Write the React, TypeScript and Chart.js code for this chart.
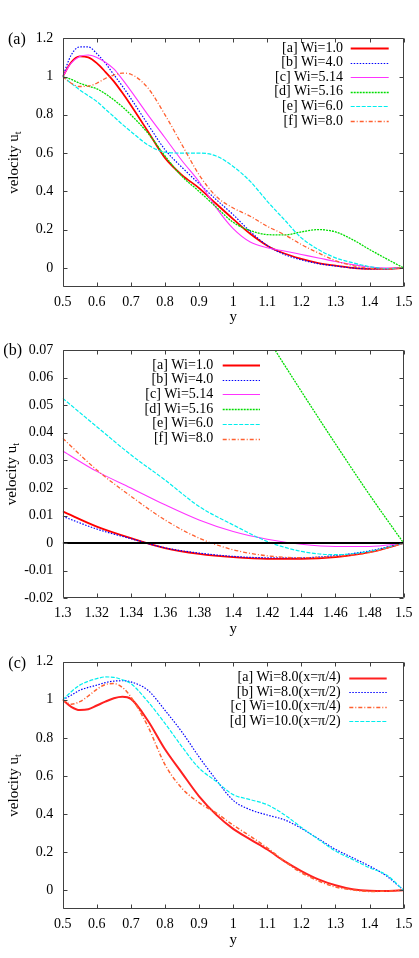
import React, { useEffect, useRef } from "react";
import { Chart, registerables } from "chart.js";

Chart.register(...registerables);

const FONT = '"Liberation Serif", "Times New Roman", "DejaVu Serif", serif';

// ---------- Panel (a) ----------
const aY = [0.5, 0.525, 0.55, 0.575, 0.6, 0.625, 0.65, 0.675, 0.7, 0.75, 0.8, 0.85, 0.9, 0.95, 1.0, 1.05, 1.1, 1.15, 1.2, 1.25, 1.3, 1.35, 1.4, 1.45, 1.5];
const aWi1 = [1.0, 1.075, 1.105, 1.1, 1.07, 1.025, 0.975, 0.915, 0.85, 0.713, 0.575, 0.485, 0.417, 0.335, 0.255, 0.178, 0.116, 0.075, 0.047, 0.025, 0.0115, 0.0, -0.005, -0.005, 0];
const aWi4 = [1.0, 1.113, 1.155, 1.155, 1.12, 1.07, 1.01, 0.95, 0.885, 0.75, 0.618, 0.525, 0.44, 0.357, 0.278, 0.19, 0.117, 0.07, 0.042, 0.022, 0.0097, -0.0005, -0.0048, -0.005, 0];
const aWi514 = [1.0, 1.07, 1.105, 1.113, 1.1, 1.075, 1.04, 0.985, 0.925, 0.8, 0.68, 0.56, 0.45, 0.315, 0.205, 0.135, 0.105, 0.088, 0.07, 0.052, 0.0334, 0.017, 0.0042, -0.0012, 0];
const aWi516 = [1.0, 0.985, 0.965, 0.95, 0.936, 0.91, 0.878, 0.842, 0.8, 0.704, 0.585, 0.478, 0.4, 0.318, 0.238, 0.195, 0.174, 0.172, 0.188, 0.2, 0.188, 0.148, 0.096, 0.047, 0];
const aWi6 = [1.0, 0.965, 0.93, 0.9, 0.87, 0.83, 0.79, 0.75, 0.713, 0.643, 0.605, 0.6, 0.6, 0.585, 0.53, 0.452, 0.348, 0.252, 0.157, 0.096, 0.0525, 0.027, 0.0066, -0.0042, 0];
const aWi8 = [1.0, 0.965, 0.948, 0.95, 0.965, 0.99, 1.008, 1.018, 1.012, 0.94, 0.8, 0.643, 0.487, 0.374, 0.313, 0.27, 0.217, 0.174, 0.122, 0.078, 0.038, 0.012, -0.0024, -0.005, 0];
const aXTicks = [0.5, 0.6, 0.7, 0.8, 0.9, 1.0, 1.1, 1.2, 1.3, 1.4, 1.5];
const aYTicks = [0, 0.2, 0.4, 0.6, 0.8, 1.0, 1.2];
const abLabels = ["[a] Wi=1.0", "[b] Wi=4.0", "[c] Wi=5.14", "[d] Wi=5.16", "[e] Wi=6.0", "[f] Wi=8.0"];

// ---------- Panel (b) ----------
const bY = [1.3, 1.32, 1.34, 1.36, 1.38, 1.4, 1.42, 1.44, 1.46, 1.48, 1.5];
const bWi1 = [0.0115, 0.006, 0.0018, -0.0018, -0.0039, -0.0051, -0.0057, -0.0057, -0.0051, -0.0033, 0];
const bWi4 = [0.0097, 0.0051, 0.0016, -0.0017, -0.0036, -0.0048, -0.0053, -0.0053, -0.0045, -0.0028, 0];
const bWi514 = [0.0334, 0.026, 0.02, 0.0139, 0.0084, 0.0042, 0.0014, -0.0004, -0.0012, -0.0012, 0];
const bWi516 = [0.188, 0.175, 0.155, 0.135, 0.115, 0.095, 0.0745, 0.055, 0.036, 0.0175, 0];
const bWi6 = [0.0525, 0.0422, 0.032, 0.0229, 0.0133, 0.0066, 0.0006, -0.003, -0.0042, -0.003, 0];
const bWi8 = [0.038, 0.0265, 0.017, 0.0084, 0.0018, -0.0024, -0.0046, -0.0053, -0.0048, -0.0034, 0];
const bZeroY = [1.3, 1.5];
const bZero = [0, 0];
const bXTicks = [1.3, 1.32, 1.34, 1.36, 1.38, 1.4, 1.42, 1.44, 1.46, 1.48, 1.5];
const bYTicks = [-0.02, -0.01, 0, 0.01, 0.02, 0.03, 0.04, 0.05, 0.06, 0.07];

// ---------- Panel (c) ----------
const cY = [0.5, 0.525, 0.55, 0.575, 0.6, 0.625, 0.65, 0.675, 0.7, 0.75, 0.8, 0.85, 0.9, 0.95, 1.0, 1.05, 1.1, 1.15, 1.2, 1.25, 1.3, 1.35, 1.4, 1.45, 1.5];
const cWi8Q = [1.0, 0.963, 0.946, 0.95, 0.97, 0.99, 1.008, 1.016, 1.005, 0.89, 0.74, 0.615, 0.493, 0.397, 0.322, 0.267, 0.214, 0.153, 0.101, 0.057, 0.026, 0.005, -0.003, -0.004, 0];
const cWi8H = [1.0, 1.024, 1.05, 1.065, 1.077, 1.09, 1.098, 1.1, 1.094, 1.05, 0.945, 0.83, 0.7, 0.58, 0.472, 0.423, 0.395, 0.37, 0.325, 0.27, 0.215, 0.171, 0.127, 0.075, 0];
const cWi10Q = [1.0, 0.977, 0.99, 1.02, 1.055, 1.08, 1.085, 1.065, 1.015, 0.86, 0.66, 0.535, 0.46, 0.406, 0.342, 0.284, 0.223, 0.153, 0.092, 0.049, 0.017, 0.002, -0.006, -0.005, 0];
const cWi10H = [1.0, 1.042, 1.077, 1.097, 1.111, 1.12, 1.118, 1.105, 1.085, 0.99, 0.876, 0.753, 0.641, 0.572, 0.502, 0.476, 0.449, 0.397, 0.33, 0.267, 0.206, 0.162, 0.118, 0.08, 0];
const cLabels = ["[a] Wi=8.0(x=\u03c0/4)", "[b] Wi=8.0(x=\u03c0/2)", "[c] Wi=10.0(x=\u03c0/4)", "[d] Wi=10.0(x=\u03c0/2)"];
const cXTicks = aXTicks;
const cYTicks = aYTicks;

// ---------- styles ----------
const RED = { borderColor: "#ff0000", borderWidth: 1.8, borderDash: [] as number[] };
const BLUE = { borderColor: "#0000ff", borderWidth: 1.2, borderDash: [1.5, 1.5] };
const MAGENTA = { borderColor: "#ff33ff", borderWidth: 1.1, borderDash: [] as number[] };
const GREEN = { borderColor: "#00dd00", borderWidth: 1.3, borderDash: [2, 1] };
const CYAN = { borderColor: "#00eeee", borderWidth: 1.2, borderDash: [4, 1.5] };
const ORANGE = { borderColor: "#ff6030", borderWidth: 1.3, borderDash: [4, 2, 1, 2] };

function series(xs: number[], ys: number[], label: string, style: any, i: number) {
  return {
    label,
    data: xs.map((x, k) => ({ x, y: ys[k] })),
    ...style,
    pointRadius: 0,
    fill: false,
    cubicInterpolationMode: "monotone",
    order: -i,
  };
}

const fmt = (v: number) => String(parseFloat(Number(v).toFixed(4)));

const gpPlugin = {
  id: "gp",
  afterDatasetsDraw(chart: any, _args: any, opts: any) {
    const ctx = chart.ctx as CanvasRenderingContext2D;
    const { left, right, top, bottom } = chart.chartArea;
    const xs = chart.scales.x;
    const ys = chart.scales.y;
    ctx.save();
    // frame
    ctx.strokeStyle = "#404040";
    ctx.lineWidth = 1;
    const L = Math.round(left) + 0.5;
    const R = Math.round(right) - 0.5;
    const T = Math.round(top) + 0.5;
    const B = Math.round(bottom) - 0.5;
    ctx.beginPath();
    ctx.rect(L, T, R - L, B - T);
    ctx.stroke();
    // inward ticks (mirrored)
    const tl = 4;
    ctx.beginPath();
    xs.ticks.forEach((t: any) => {
      const p = Math.round(xs.getPixelForValue(t.value)) + 0.5;
      ctx.moveTo(p, B);
      ctx.lineTo(p, B - tl);
      ctx.moveTo(p, T);
      ctx.lineTo(p, T + tl);
    });
    ys.ticks.forEach((t: any) => {
      const p = Math.round(ys.getPixelForValue(t.value)) + 0.5;
      ctx.moveTo(L, p);
      ctx.lineTo(L + tl, p);
      ctx.moveTo(R, p);
      ctx.lineTo(R - tl, p);
    });
    ctx.stroke();

    // legend
    const lg = opts.legend;
    let row = 0;
    chart.data.datasets.forEach((ds: any) => {
      if (!ds.label) return;
      const y = lg.y0 + row * lg.dy;
      ctx.fillStyle = "#000";
      ctx.font = `14px ${FONT}`;
      ctx.textAlign = "right";
      ctx.textBaseline = "middle";
      ctx.fillText(ds.label, lg.right, y);
      ctx.strokeStyle = ds.borderColor;
      ctx.lineWidth = ds.borderWidth;
      ctx.setLineDash(ds.borderDash || []);
      ctx.beginPath();
      ctx.moveTo(lg.x1, Math.round(y) + 0.5);
      ctx.lineTo(lg.x2, Math.round(y) + 0.5);
      ctx.stroke();
      ctx.setLineDash([]);
      row++;
    });

    // panel label
    ctx.fillStyle = "#000";
    ctx.font = `16px ${FONT}`;
    ctx.textAlign = "left";
    ctx.textBaseline = "middle";
    ctx.fillText(opts.label, opts.labelX, opts.labelY);

    // x title
    ctx.font = `15px ${FONT}`;
    ctx.textAlign = "center";
    ctx.fillText("y", (left + right) / 2, bottom + 30.5);

    // y title with subscript
    ctx.save();
    ctx.translate(opts.yTitleBase, (top + bottom) / 2);
    ctx.rotate(-Math.PI / 2);
    ctx.textBaseline = "alphabetic";
    ctx.textAlign = "left";
    ctx.font = `15px ${FONT}`;
    const main = "velocity u";
    const w1 = ctx.measureText(main).width;
    ctx.font = `10px ${FONT}`;
    const w2 = ctx.measureText("t").width;
    const x0 = -(w1 + w2) / 2;
    ctx.font = `15px ${FONT}`;
    ctx.fillText(main, x0, 0);
    ctx.font = `10px ${FONT}`;
    ctx.fillText("t", x0 + w1, 3);
    ctx.restore();

    ctx.restore();
  },
};

type PanelCfg = {
  top: number;
  height: number;
  plotTop: number;
  plotBottom: number;
  xMin: number;
  xMax: number;
  yMin: number;
  yMax: number;
  xTicks: number[];
  yTicks: number[];
  datasets: any[];
  gp: any;
};

function Panel({ cfg }: { cfg: PanelCfg }) {
  const ref = useRef<HTMLCanvasElement>(null);
  useEffect(() => {
    const chart = new Chart(ref.current as HTMLCanvasElement, {
      type: "line",
      data: { datasets: cfg.datasets },
      options: {
        animation: false,
        responsive: false,
        devicePixelRatio: 1,
        layout: { padding: { top: cfg.plotTop, right: 13, left: 0, bottom: 0 } },
        plugins: {
          legend: { display: false },
          tooltip: { enabled: false },
          gp: cfg.gp,
        } as any,
        scales: {
          x: {
            type: "linear",
            min: cfg.xMin,
            max: cfg.xMax,
            grid: { display: false, drawTicks: false },
            border: { display: false },
            ticks: {
              padding: 6.6,
              color: "#000",
              autoSkip: false,
              maxRotation: 0,
              minRotation: 0,
              font: { family: FONT, size: 14 },
              callback: (v: any) => fmt(v),
            },
            afterBuildTicks: (s: any) => {
              s.ticks = cfg.xTicks.map((v) => ({ value: v }));
            },
            afterFit: (s: any) => {
              s.height = cfg.height - cfg.plotBottom;
            },
          },
          y: {
            type: "linear",
            min: cfg.yMin,
            max: cfg.yMax,
            grid: { display: false, drawTicks: false },
            border: { display: false },
            ticks: {
              padding: 9.4,
              color: "#000",
              autoSkip: false,
              font: { family: FONT, size: 14 },
              callback: (v: any) => fmt(v),
            },
            afterBuildTicks: (s: any) => {
              s.ticks = cfg.yTicks.map((v) => ({ value: v }));
            },
            afterFit: (s: any) => {
              s.width = 62.7;
            },
          },
        } as any,
      },
      plugins: [gpPlugin as any],
    });
    return () => chart.destroy();
  }, [cfg]);
  return (
    <canvas
      ref={ref}
      width={419}
      height={cfg.height}
      style={{ position: "absolute", left: 0, top: cfg.top, display: "block" }}
    />
  );
}

const panelA: PanelCfg = {
  top: 0,
  height: 328,
  plotTop: 38.3,
  plotBottom: 287,
  xMin: 0.5,
  xMax: 1.5,
  yMin: -0.1,
  yMax: 1.2,
  xTicks: aXTicks,
  yTicks: aYTicks,
  datasets: [
    series(aY, aWi1, abLabels[0], RED, 0),
    series(aY, aWi4, abLabels[1], BLUE, 1),
    series(aY, aWi514, abLabels[2], MAGENTA, 2),
    series(aY, aWi516, abLabels[3], GREEN, 3),
    series(aY, aWi6, abLabels[4], CYAN, 4),
    series(aY, aWi8, abLabels[5], ORANGE, 5),
  ],
  gp: {
    legend: { right: 343, x1: 350.7, x2: 388.7, y0: 48, dy: 14.6 },
    label: "(a)",
    labelX: 8,
    labelY: 40,
    yTitleBase: 18,
  },
};

const panelB: PanelCfg = {
  top: 328,
  height: 312,
  plotTop: 22,
  plotBottom: 270.3,
  xMin: 1.3,
  xMax: 1.5,
  yMin: -0.02,
  yMax: 0.07,
  xTicks: bXTicks,
  yTicks: bYTicks,
  datasets: [
    series(bY, bWi1, abLabels[0], RED, 0),
    series(bY, bWi4, abLabels[1], BLUE, 1),
    series(bY, bWi514, abLabels[2], MAGENTA, 2),
    series(bY, bWi516, abLabels[3], GREEN, 3),
    series(bY, bWi6, abLabels[4], CYAN, 4),
    series(bY, bWi8, abLabels[5], ORANGE, 5),
    {
      ...series(bZeroY, bZero, "", { borderColor: "#000000", borderWidth: 2, borderDash: [] }, 6),
      order: -100,
    },
  ],
  gp: {
    legend: { right: 213.3, x1: 222.7, x2: 260, y0: 37, dy: 14.7 },
    label: "(b)",
    labelX: 3.3,
    labelY: 23,
    yTitleBase: 16,
  },
};

const panelC: PanelCfg = {
  top: 640,
  height: 318,
  plotTop: 21.7,
  plotBottom: 269.3,
  xMin: 0.5,
  xMax: 1.5,
  yMin: -0.1,
  yMax: 1.2,
  xTicks: cXTicks,
  yTicks: cYTicks,
  datasets: [
    series(cY, cWi8Q, cLabels[0], { ...RED, borderColor: "#ff2020", borderWidth: 2 }, 0),
    series(cY, cWi8H, cLabels[1], BLUE, 1),
    series(cY, cWi10Q, cLabels[2], { ...ORANGE, borderWidth: 1.5 }, 2),
    series(cY, cWi10H, cLabels[3], CYAN, 3),
  ],
  gp: {
    legend: { right: 340.7, x1: 349.3, x2: 386.7, y0: 37.7, dy: 14.5 },
    label: "(c)",
    labelX: 8.3,
    labelY: 23.3,
    yTitleBase: 18,
  },
};

export default function App() {
  return (
    <div style={{ position: "absolute", left: 0, top: 0, width: 419, height: 958, background: "#fff" }}>
      <Panel cfg={panelA} />
      <Panel cfg={panelB} />
      <Panel cfg={panelC} />
    </div>
  );
}
